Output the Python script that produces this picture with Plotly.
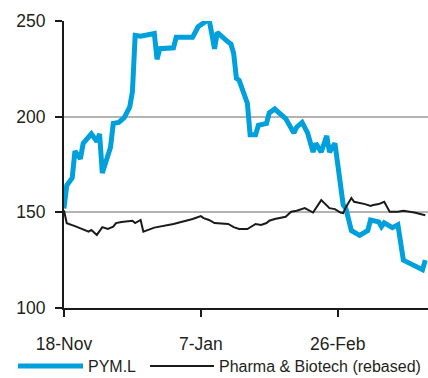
import plotly.graph_objects as go

# PYM.L (blue)
pym_dates = ["2013-11-18","2013-11-19","2013-11-21","2013-11-22","2013-11-24","2013-11-25","2013-11-28",
             "2013-11-30","2013-12-01","2013-12-02","2013-12-05","2013-12-06","2013-12-08","2013-12-10",
             "2013-12-12","2013-12-13","2013-12-14","2013-12-16","2013-12-21","2013-12-22","2013-12-23",
             "2013-12-28","2013-12-29","2014-01-04","2014-01-06","2014-01-10","2014-01-12","2014-01-13",
             "2014-01-17","2014-01-18","2014-01-19","2014-01-20","2014-01-21","2014-01-24","2014-01-25",
             "2014-01-27","2014-01-28","2014-01-31","2014-02-01","2014-02-03","2014-02-07","2014-02-10",
             "2014-02-11","2014-02-13","2014-02-15","2014-02-17","2014-02-18","2014-02-20","2014-02-22",
             "2014-02-23","2014-02-25","2014-02-27","2014-02-28","2014-03-01","2014-03-03","2014-03-06",
             "2014-03-09","2014-03-10","2014-03-13","2014-03-14","2014-03-15","2014-03-18","2014-03-20",
             "2014-03-22","2014-03-27","2014-03-29","2014-03-30"]
pym_vals = [152, 164, 168, 182, 178, 186, 191,
            187, 191, 170.5, 184, 196.5, 197, 199.5,
            205, 213, 242.5, 242, 243.5, 230, 235.5,
            236, 241.5, 241.5, 247, 251, 235.5, 244,
            239, 238, 233, 220, 219, 207, 190.5,
            190.5, 195.5, 196.5, 202, 204, 199, 191.5,
            194.5, 197, 191.5, 181.5, 186, 181.5, 190,
            181.5, 186, 161.5, 154, 152, 140.5, 138,
            140.5, 146, 145, 142.5, 144.5, 142, 143.5,
            125, 121.5, 120, 125]

# Pharma & Biotech (rebased) (black)
ph_dates = ["2013-11-18","2013-11-19","2013-11-22","2013-11-24","2013-11-25","2013-11-27","2013-11-28",
            "2013-11-30","2013-12-02","2013-12-04","2013-12-06","2013-12-07","2013-12-09","2013-12-13",
            "2013-12-14","2013-12-16","2013-12-17","2013-12-19","2013-12-21","2013-12-28","2014-01-02",
            "2014-01-04","2014-01-07","2014-01-08","2014-01-10","2014-01-12","2014-01-17","2014-01-19",
            "2014-01-21","2014-01-24","2014-01-27","2014-01-29","2014-01-31","2014-02-01","2014-02-03",
            "2014-02-05","2014-02-07","2014-02-09","2014-02-11","2014-02-14","2014-02-17","2014-02-20",
            "2014-02-23","2014-02-25","2014-02-27","2014-02-28","2014-03-01","2014-03-03","2014-03-04",
            "2014-03-08","2014-03-10","2014-03-11","2014-03-13","2014-03-15","2014-03-17","2014-03-20",
            "2014-03-22","2014-03-26","2014-03-30"]
ph_vals = [151, 144.3, 142.8, 141.7, 140.8, 139.9, 140.8,
           138.2, 142.3, 141.3, 142.5, 144.4, 145, 145.6,
           144.4, 146, 139.9, 140.8, 142, 143.9, 145.6,
           146.5, 148, 147, 146, 144.4, 143.9, 142.3,
           141.3, 141.3, 143.9, 143.4, 144.4, 145.6, 146.5,
           147, 147.7, 150.3, 150.8, 152.2, 149.9, 156.4,
           152.2, 151.7, 149.9, 149.6, 152.7, 157.5, 155.5,
           154.3, 153.3, 153.8, 154.3, 155.5, 150.3, 150.3,
           150.8, 149.9, 148.5]

series_names = ["PYM.L", "Pharma & Biotech (rebased)"]
series_colors = ["#00a0dc", "#1a1a1a"]
series_widths = [5, 2]

x_tick_vals = ["2013-11-18", "2014-01-07", "2014-02-26"]
x_tick_text = ["18-Nov", "7-Jan", "26-Feb"]
y_tick_vals = [100, 150, 200, 250]
x_range = ["2013-11-18", "2014-03-31"]
y_range = [100, 250]

font = "Liberation Sans, Arial, sans-serif"
txt = "#231f20"

fig = go.Figure()
fig.add_trace(go.Scatter(x=pym_dates, y=pym_vals, mode="lines", name=series_names[0],
                         line=dict(color=series_colors[0], width=series_widths[0])))
fig.add_trace(go.Scatter(x=ph_dates, y=ph_vals, mode="lines", name=series_names[1],
                         line=dict(color=series_colors[1], width=series_widths[1])))

# legend drawn below the plot (paper coordinates)
W, L, T, B, H = 428, 64, 21, 70, 378
pw, ph = W - L, H - T - B
def px(x):
    return (x - L) / pw
def py(y):
    return (H - B - y) / ph

leg_line_x = [(18, 83), (150, 214)]
leg_text_x = [86, 217]
for i in range(2):
    fig.add_shape(type="line", xref="paper", yref="paper",
                  x0=px(leg_line_x[i][0]), x1=px(leg_line_x[i][1]), y0=py(366), y1=py(366),
                  line=dict(color=series_colors[i], width=series_widths[i]))
    fig.add_annotation(xref="paper", yref="paper", x=px(leg_text_x[i]), y=py(366),
                       xanchor="left", yanchor="middle", text=series_names[i], showarrow=False,
                       font=dict(size=16, family=font, color=txt))

fig.update_layout(
    width=W, height=H,
    margin=dict(l=L, r=0, t=T, b=B),
    paper_bgcolor="white", plot_bgcolor="white",
    font=dict(family=font, color=txt, size=17.5),
    showlegend=False,
    xaxis=dict(type="date", range=x_range, tickvals=x_tick_vals, ticktext=x_tick_text,
               showgrid=False, showline=True, linecolor="#1a1a1a", linewidth=2,
               ticks="outside", ticklen=7, tickwidth=2, tickcolor="#1a1a1a",
               ticklabelstandoff=12, zeroline=False),
    yaxis=dict(range=y_range, tickvals=y_tick_vals, showgrid=True, gridcolor="#b3b3b3",
               gridwidth=1.5, showline=True, linecolor="#1a1a1a", linewidth=2,
               ticks="outside", ticklen=7, tickwidth=2, tickcolor="#1a1a1a",
               ticklabelstandoff=6, zeroline=False),
)

fig.write_html("out.html")
